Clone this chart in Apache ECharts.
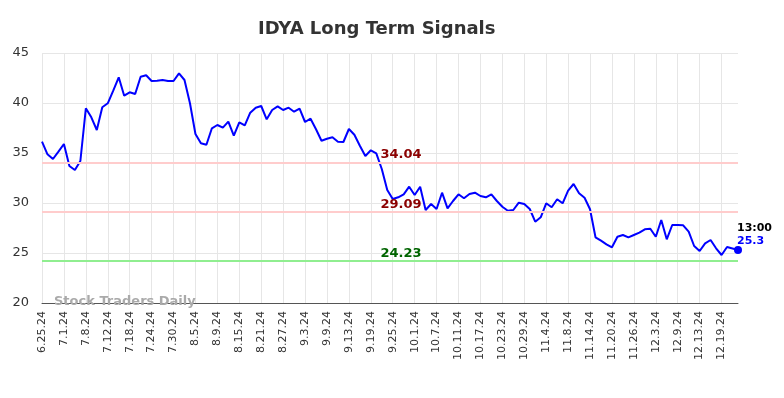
<!DOCTYPE html>
<html>
<head>
<meta charset="utf-8">
<title>IDYA Long Term Signals</title>
<script src="https://cdn.jsdelivr.net/npm/echarts@6/dist/echarts.min.js"></script>
<style>
  html, body { margin: 0; padding: 0; background: #fff; }
  #main { width: 784px; height: 398px; }
</style>
</head>
<body>
<div id="main"></div>
<script>
// trading days, every 4th one gets a label
var dates = [
  '6.25.24','6.26.24','6.27.24','6.28.24',
  '7.1.24','7.2.24','7.3.24','7.5.24','7.8.24','7.9.24','7.10.24','7.11.24','7.12.24','7.15.24','7.16.24','7.17.24','7.18.24','7.19.24','7.22.24','7.23.24','7.24.24','7.25.24','7.26.24','7.29.24','7.30.24','7.31.24',
  '8.1.24','8.2.24','8.5.24','8.6.24','8.7.24','8.8.24','8.9.24','8.12.24','8.13.24','8.14.24','8.15.24','8.16.24','8.19.24','8.20.24','8.21.24','8.22.24','8.23.24','8.26.24','8.27.24','8.28.24','8.29.24','8.30.24',
  '9.3.24','9.4.24','9.5.24','9.6.24','9.9.24','9.10.24','9.11.24','9.12.24','9.13.24','9.16.24','9.17.24','9.18.24','9.19.24','9.20.24','9.23.24','9.24.24','9.25.24','9.26.24','9.27.24','9.30.24',
  '10.1.24','10.2.24','10.3.24','10.4.24','10.7.24','10.8.24','10.9.24','10.10.24','10.11.24','10.14.24','10.15.24','10.16.24','10.17.24','10.18.24','10.21.24','10.22.24','10.23.24','10.24.24','10.25.24','10.28.24','10.29.24','10.30.24','10.31.24',
  '11.1.24','11.4.24','11.5.24','11.6.24','11.7.24','11.8.24','11.11.24','11.12.24','11.13.24','11.14.24','11.15.24','11.18.24','11.19.24','11.20.24','11.21.24','11.22.24','11.25.24','11.26.24','11.27.24','11.29.24',
  '12.2.24','12.3.24','12.4.24','12.5.24','12.6.24','12.9.24','12.10.24','12.11.24','12.12.24','12.13.24','12.16.24','12.17.24','12.18.24','12.19.24','12.20.24','12.23.24','12.24.24'
];

var prices = [
  36.13, 34.87, 34.4, 35.13, 35.9, 33.7, 33.3, 34.2, 39.47, 38.57,
  37.3, 39.57, 39.97, 41.23, 42.57, 40.73, 41.07, 40.9, 42.63, 42.77,
  42.2, 42.23, 42.3, 42.2, 42.2, 42.97, 42.3, 39.97, 36.9, 35.97,
  35.83, 37.47, 37.8, 37.53, 38.13, 36.73, 38.07, 37.77, 39.03, 39.53,
  39.7, 38.37, 39.3, 39.67, 39.3, 39.53, 39.13, 39.43, 38.1, 38.43,
  37.37, 36.23, 36.43, 36.57, 36.13, 36.1, 37.4, 36.83, 35.73, 34.7,
  35.27, 34.97, 33.4, 31.3, 30.4, 30.57, 30.87, 31.63, 30.8, 31.63,
  29.3, 29.9, 29.4, 31.03, 29.47, 30.2, 30.87, 30.47, 30.9, 31.03,
  30.7, 30.57, 30.87, 30.2, 29.63, 29.23, 29.3, 30.03, 29.9, 29.4,
  28.13, 28.57, 29.97, 29.57, 30.37, 29.97, 31.23, 31.9, 30.97, 30.53,
  29.37, 26.57, 26.23, 25.87, 25.57, 26.63, 26.8, 26.57, 26.8, 27.03,
  27.37, 27.43, 26.63, 28.3, 26.37, 27.8, 27.8, 27.77, 27.13, 25.7,
  25.2, 25.97, 26.3, 25.47, 24.8, 25.6, 25.45, 25.3
];

var resistance = [34.04, 29.09];
var support = [24.23];
var lastTime = '13:00';
var lastPrice = 25.3;

var myChart = echarts.init(document.getElementById('main'));
var font = 'DejaVu Sans';

var marks = [];
resistance.forEach(function (v) {
    marks.push({
        yAxis: v,
        lineStyle: { color: '#ffcccc', width: 2, type: 'solid' },
        label: { color: '#8b0000' }
    });
});
support.forEach(function (v) {
    marks.push({
        yAxis: v,
        lineStyle: { color: '#90ee90', width: 2, type: 'solid' },
        label: { color: '#006400' }
    });
});

var option = {
    animation: false,
    title: {
        text: 'IDYA Long Term Signals',
        left: 253,
        top: 15,
        textStyle: { fontFamily: font, fontSize: 18, fontWeight: 'bold', color: '#333' }
    },
    grid: { left: 42, right: 46, top: 53, bottom: 95 },
    xAxis: {
        type: 'category',
        data: dates,
        boundaryGap: false,
        axisLine: { lineStyle: { color: '#555', width: 1 } },
        axisTick: { show: false },
        axisLabel: {
            interval: 3,
            rotate: 90,
            fontFamily: font,
            fontSize: 11,
            color: '#333',
            margin: 8
        },
        splitLine: { show: true, interval: 3, lineStyle: { color: '#e6e6e6' } }
    },
    yAxis: {
        type: 'value',
        min: 20,
        max: 45,
        interval: 5,
        axisLine: { show: false },
        axisTick: { show: false },
        axisLabel: { fontFamily: font, fontSize: 13, color: '#333', margin: 13 },
        splitLine: { lineStyle: { color: '#e6e6e6' } }
    },
    graphic: [{
        type: 'text',
        left: 54,
        top: 295,
        z: 100,
        style: {
            text: 'Stock Traders Daily',
            font: 'bold 13px "DejaVu Sans"',
            fill: '#aaaaaa'
        }
    }],
    series: [{
        type: 'line',
        data: prices,
        showSymbol: false,
        lineStyle: { color: '#0000ff', width: 2 },
        itemStyle: { color: '#0000ff' },
        markLine: {
            silent: true,
            symbol: 'none',
            label: {
                position: 'middle',
                fontFamily: font,
                fontSize: 13,
                fontWeight: 'bold',
                distance: 1,
                padding: [0, 0, 0, 22],
                formatter: function (p) { return p.value.toFixed(2); }
            },
            data: marks
        },
        markPoint: {
            symbol: 'circle',
            symbolSize: 8,
            itemStyle: { color: '#0000ff' },
            label: {
                show: true,
                position: [3, -24],
                align: 'left',
                formatter: '{t|' + lastTime + '}\n{v|' + lastPrice + '}',
                rich: {
                    t: { fontFamily: font, fontSize: 11, fontWeight: 'bold', color: '#000', lineHeight: 13 },
                    v: { fontFamily: font, fontSize: 11, fontWeight: 'bold', color: '#0000ff', lineHeight: 13 }
                }
            },
            data: [{ coord: [dates.length - 1, lastPrice] }]
        }
    }]
};

myChart.setOption(option);
</script>
</body>
</html>
